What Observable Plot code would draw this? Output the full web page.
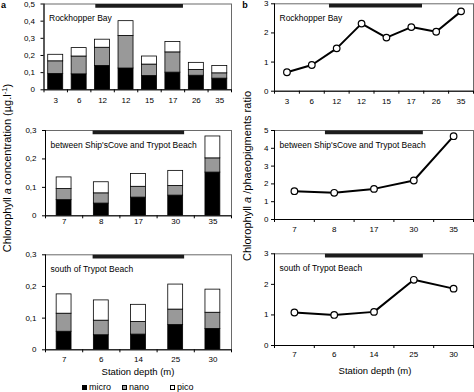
<!DOCTYPE html>
<html><head><meta charset="utf-8">
<script src="https://cdn.jsdelivr.net/npm/d3@7"></script>
<script src="https://cdn.jsdelivr.net/npm/@observablehq/plot@0.6"></script>
<style>
body{margin:0;background:#fff;font-family:"Liberation Sans",Arial,sans-serif;color:#000;}
#fig{position:relative;width:474px;height:392px;overflow:hidden;background:#fff;}
.abs{position:absolute;white-space:nowrap;line-height:1;}
.c{transform:translate(-50%,-50%);}
.rot{transform:translate(-50%,-50%) rotate(-90deg);}
sup{font-size:70%;vertical-align:0.45em;line-height:0;}
.sw{position:absolute;width:5px;height:5px;border:1px solid #000;box-sizing:border-box;}
</style></head><body><div id="fig"></div>
<script>
// ---- Data ----
const segNames = ["micro", "nano", "pico"];
const segFills = ["#000000", "#999999", "#ffffff"];

// Rockhopper Bay
const rhLabels = ["3", "6", "12", "12", "15", "17", "26", "35"];
const rhMicro = [0.092, 0.090, 0.139, 0.124, 0.080, 0.100, 0.082, 0.065];
const rhNano  = [0.074, 0.104, 0.106, 0.190, 0.067, 0.118, 0.034, 0.031];
const rhPico  = [0.038, 0.049, 0.047, 0.086, 0.047, 0.060, 0.041, 0.043];
const rhRatio = [0.65, 0.90, 1.47, 2.32, 1.84, 2.20, 2.04, 2.74];
const rhSpan  = [1.71, 5.45];

// between Ship's Cove and Trypot Beach
const scLabels = ["7", "8", "17", "30", "35"];
const scMicro = [0.055, 0.043, 0.064, 0.071, 0.152];
const scNano  = [0.039, 0.036, 0.038, 0.034, 0.050];
const scPico  = [0.041, 0.039, 0.045, 0.053, 0.077];
const scRatio = [1.59, 1.50, 1.72, 2.19, 4.68];
const scSpan  = [0.78, 3.24];

// south of Trypot Beach
const tbLabels = ["7", "6", "14", "25", "30"];
const tbMicro = [0.057, 0.046, 0.048, 0.078, 0.066];
const tbNano  = [0.057, 0.046, 0.040, 0.049, 0.051];
const tbPico  = [0.061, 0.064, 0.054, 0.079, 0.073];
const tbRatio = [1.08, 1.00, 1.10, 2.15, 1.86];
const tbSpan  = [0.78, 3.24];

const titles = ["Rockhopper Bay", "between Ship'sCove and Trypot Beach", "south of Trypot Beach"];
const concTicks = [[0, 0.1, 0.2, 0.3, 0.4, 0.5], [0, 0.1, 0.2, 0.3], [0, 0.1, 0.2, 0.3]];
const ratioTicks = [[0, 1, 2, 3], [0, 1, 2, 3, 4, 5], [0, 1, 2, 3]];

// ---- Drawing ----
const fig = document.getElementById("fig");
const FONT = "Liberation Sans, Arial, sans-serif";
const fmtComma = d => d === 0 ? "0" : d3.format(".1f")(d).replace(".", ",");

function place(node, left, top) {
  const w = document.createElement("div");
  w.className = "abs";
  w.style.left = left + "px";
  w.style.top = top + "px";
  w.appendChild(node);
  fig.appendChild(w);
}

function commonMarks(labels, ticks, fmt, span, title, labelPad, yPad) {
  const n = labels.length;
  const idx = d3.range(n);
  const bounds = d3.range(n + 1).map(k => k - 0.5);
  const yMax = ticks[ticks.length - 1];
  return [
    Plot.frame({stroke: "#6a6a6a"}),
    Plot.ruleY([0], {stroke: "#000"}),
    Plot.ruleX([-0.5], {stroke: "#000"}),
    Plot.axisY({ticks, tickSize: 3, tickPadding: yPad, tickFormat: fmt, fontSize: 8, label: null, stroke: "#000"}),
    Plot.axisX({ticks: bounds, tickSize: 3, tickFormat: () => "", label: null, stroke: "#000"}),
    Plot.axisX({ticks: idx, tickSize: 0, tickPadding: labelPad, tickFormat: i => labels[i], fontSize: 8, label: null}),
    Plot.ruleY([{y: yMax, a: span[0], b: span[1]}], {y: "y", x1: "a", x2: "b", stroke: "#1c1c1c", strokeWidth: 3.7, dy: 1.8}),
    Plot.text([title], {frameAnchor: "top-left", dx: 5, dy: 11, fontSize: 8.5, textAnchor: "start", fill: "#000"})
  ];
}

function barPanel(o) {
  const rows = [];
  o.labels.forEach((l, i) => {
    let base = 0;
    [o.micro[i], o.nano[i], o.pico[i]].forEach((v, s) => {
      rows.push({i, seg: segNames[s], y1: base, y2: base + v});
      base += v;
    });
  });
  const n = o.labels.length;
  const plot = Plot.plot({
    width: o.width, height: o.height,
    marginTop: o.mt, marginBottom: o.height - o.fb + o.top, marginLeft: o.ml, marginRight: o.mr,
    style: {fontFamily: FONT, fontSize: "8px", background: "transparent", overflow: "visible"},
    x: {type: "linear", domain: [-0.5, n - 0.5], axis: null},
    y: {domain: [0, o.ticks[o.ticks.length - 1]], axis: null},
    color: {domain: segNames, range: segFills},
    marks: [
      Plot.rect(rows, {x1: d => d.i - o.halfW, x2: d => d.i + o.halfW, y1: "y1", y2: "y2", fill: "seg", stroke: "#000", strokeWidth: 0.8}),
      ...commonMarks(o.labels, o.ticks, fmtComma, o.span, o.title, o.labelPad, 6)
    ]
  });
  place(plot, o.left, o.top);
}

function linePanel(o) {
  const rows = o.values.map((v, i) => ({i, v}));
  const n = o.labels.length;
  const plot = Plot.plot({
    width: o.width, height: o.height,
    marginTop: o.mt, marginBottom: o.height - o.fb + o.top, marginLeft: o.ml, marginRight: o.mr,
    style: {fontFamily: FONT, fontSize: "8px", background: "transparent", overflow: "visible"},
    x: {type: "linear", domain: [-0.5, n - 0.5], axis: null},
    y: {domain: [0, o.ticks[o.ticks.length - 1]], axis: null},
    marks: [
      ...commonMarks(o.labels, o.ticks, d => String(d), o.span, o.title, o.labelPad, 3),
      Plot.line(rows, {x: "i", y: "v", stroke: "#000", strokeWidth: 2}),
      Plot.dot(rows, {x: "i", y: "v", r: 3.3, fill: "#fff", stroke: "#000", strokeWidth: 1.2})
    ]
  });
  place(plot, o.left, o.top);
}

// Column a: concentrations
barPanel({labels: rhLabels, micro: rhMicro, nano: rhNano, pico: rhPico, span: rhSpan, title: titles[0], ticks: concTicks[0],
  left: 0, top: 0, width: 240, height: 118, mt: 3.5, fb: 89.3, ml: 43.5, mr: 9, halfW: 0.32, labelPad: 8});
barPanel({labels: scLabels, micro: scMicro, nano: scNano, pico: scPico, span: scSpan, title: titles[1], ticks: concTicks[1],
  left: 0, top: 120, width: 240, height: 118, mt: 10, fb: 215.3, ml: 45, mr: 9, halfW: 0.2, labelPad: 3});
barPanel({labels: tbLabels, micro: tbMicro, nano: tbNano, pico: tbPico, span: tbSpan, title: titles[2], ticks: concTicks[2],
  left: 0, top: 244, width: 240, height: 118, mt: 10.3, fb: 349.3, ml: 45, mr: 9, halfW: 0.2, labelPad: 6.7});

// Column b: ratios
linePanel({labels: rhLabels, values: rhRatio, span: rhSpan, title: titles[0], ticks: ratioTicks[0],
  left: 237, top: 0, width: 237, height: 118, mt: 3.3, fb: 90.7, ml: 37, mr: 1, labelPad: 7.6});
linePanel({labels: scLabels, values: scRatio, span: scSpan, title: titles[1], ticks: ratioTicks[1],
  left: 237, top: 120, width: 237, height: 118, mt: 10, fb: 219, ml: 37, mr: 1, labelPad: 7});
linePanel({labels: tbLabels, values: tbRatio, span: tbSpan, title: titles[2], ticks: ratioTicks[2],
  left: 237, top: 243, width: 237, height: 118, mt: 10.3, fb: 345, ml: 37, mr: 1, labelPad: 6});

// ---- Text and legend ----
function txt(html, x, y, cls, css) {
  const d = document.createElement("div");
  d.className = "abs " + cls;
  d.style.left = x + "px";
  d.style.top = y + "px";
  Object.assign(d.style, css || {});
  d.innerHTML = html;
  fig.appendChild(d);
}
txt("a", 3.5, 5, "c", {fontWeight: "bold", fontSize: "9px"});
txt("b", 245, 4.5, "c", {fontWeight: "bold", fontSize: "9px"});
txt("Chlorophyll <i>a</i> concentration (µg.l<sup>-1</sup>)", 7, 168, "rot", {fontSize: "11px"});
txt("Chlorophyll <i>a</i> /phaeopigments ratio", 247, 176, "rot", {fontSize: "11px"});
txt("Station depth (m)", 138, 372, "c", {fontSize: "9.5px"});
txt("Station depth (m)", 375, 370.5, "c", {fontSize: "9.5px"});

const legendX = [82, 122, 170];
segNames.forEach((name, k) => {
  const s = document.createElement("div");
  s.className = "sw";
  s.style.left = legendX[k] + "px";
  s.style.top = "384.5px";
  s.style.background = segFills[k];
  fig.appendChild(s);
  txt(name, legendX[k] + 7, 382.5, "", {fontSize: "9px"});
});
</script>
</body></html>
